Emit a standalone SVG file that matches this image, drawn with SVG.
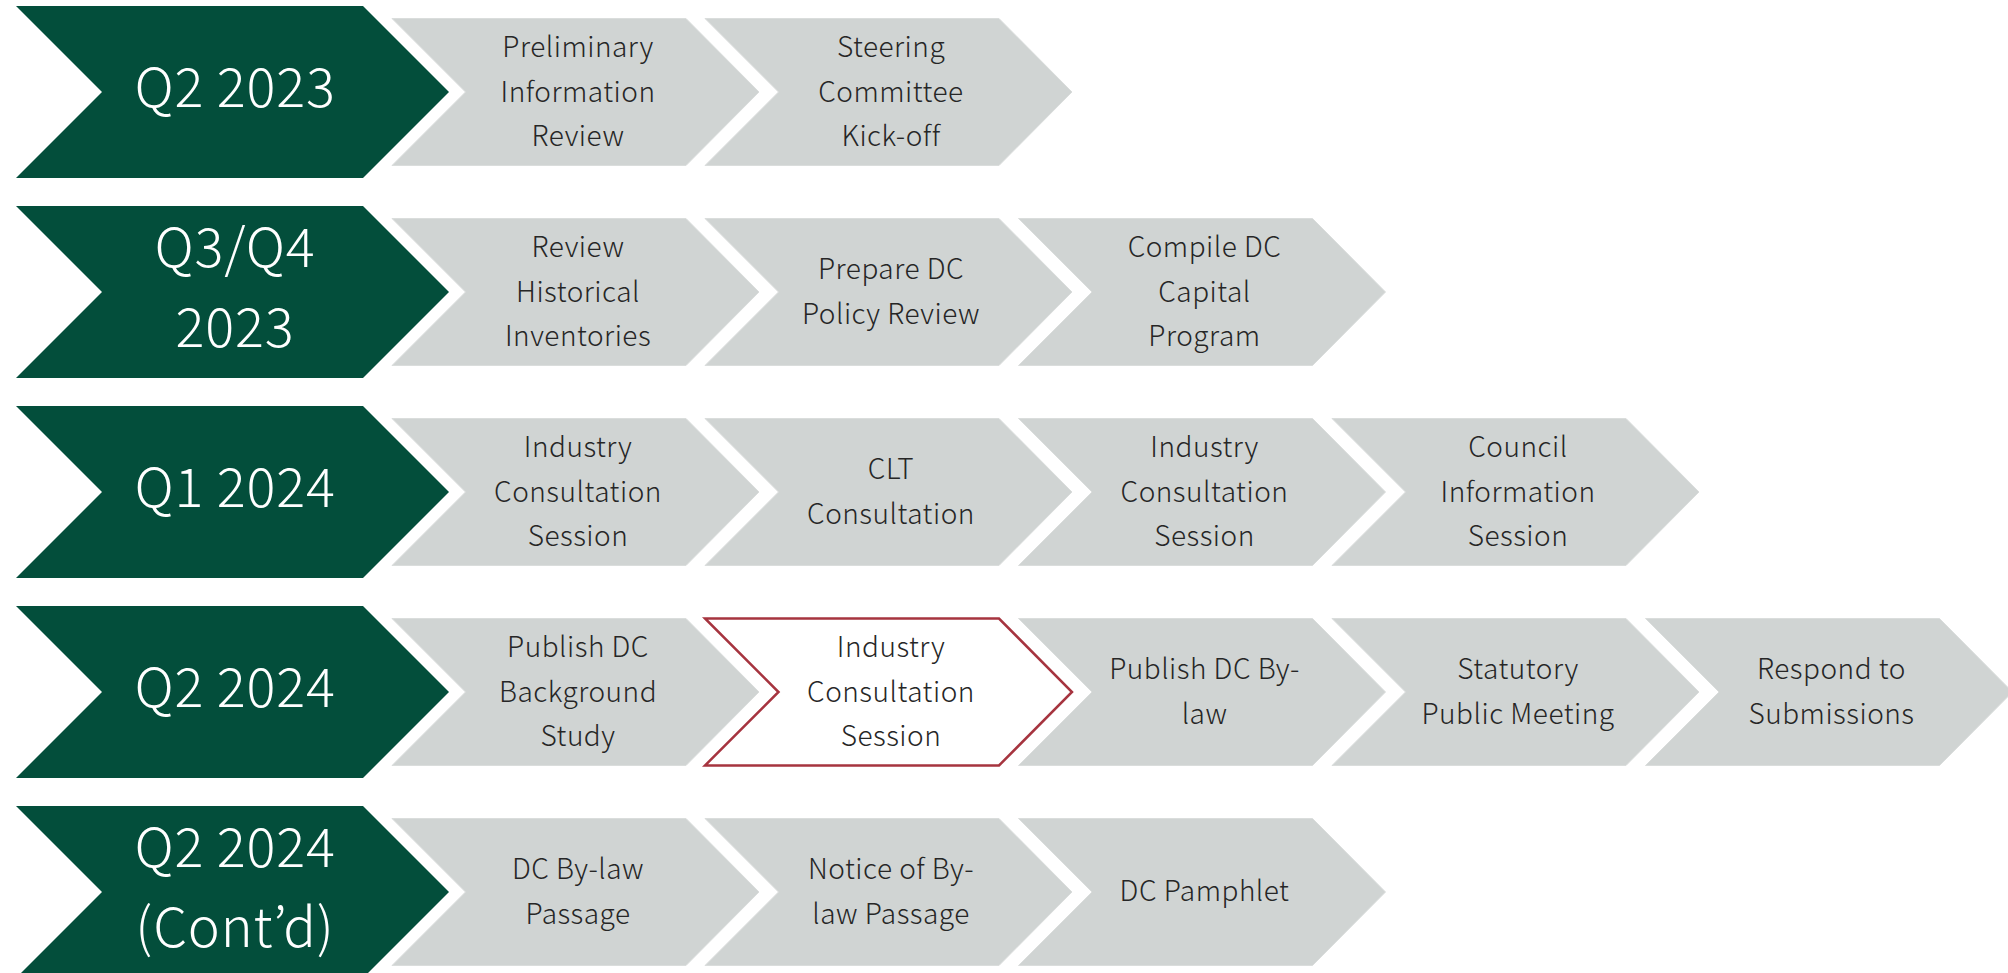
<svg xmlns="http://www.w3.org/2000/svg" xmlns:xlink="http://www.w3.org/1999/xlink" width="2008" height="973" viewBox="0 0 2008 973">
  <style>
    .phase { fill: #034E3B; }
    .step { fill: #D0D4D3; stroke: #DADDDC; stroke-width: 1; }
    .current { fill: #FFFFFF; stroke: #A6343F; stroke-width: 2.5; }
    .ptxt { font-family: "Noto Sans CJK JP", "Liberation Sans", sans-serif; font-weight: 300; font-size: 54px; letter-spacing: 0.8px; fill: #FFFFFF; text-anchor: middle; }
    .stxt { font-family: "Noto Sans CJK JP", "Liberation Sans", sans-serif; font-weight: 300; font-size: 28px; letter-spacing: 0.5px; fill: #262626; text-anchor: middle; }
  </style>
  <defs>
    <!-- large chevron for the period label, 433 x 172 -->
    <path id="chevL" d="M0,0 H347 L433,86 L347,172 H0 L86,86 Z"/>
    <!-- small chevron for a step, 367 x 147 -->
    <path id="chevS" d="M0,0 H294 L367,73.5 L294,147 H0 L73.5,73.5 Z"/>
  </defs>
  <rect width="2008" height="973" fill="#FFFFFF"/>

  <!-- Row 1 : Q2 2023 -->
  <g id="phase-q2-2023">
    <use xlink:href="#chevL" x="16" y="6" class="phase"/>
    <text class="ptxt" x="235" y="107">Q2 2023</text>
  </g>
  <g id="step-preliminary-review">
    <use xlink:href="#chevS" x="392" y="18.5" class="step"/>
    <text class="stxt"><tspan x="578" y="57">Preliminary</tspan><tspan x="578" y="101.5">Information</tspan><tspan x="578" y="146">Review</tspan></text>
  </g>
  <g id="step-steering-kickoff">
    <use xlink:href="#chevS" x="705" y="18.5" class="step"/>
    <text class="stxt"><tspan x="891" y="57">Steering</tspan><tspan x="891" y="101.5">Committee</tspan><tspan x="891" y="146">Kick-off</tspan></text>
  </g>

  <!-- Row 2 : Q3/Q4 2023 -->
  <g id="phase-q3q4-2023">
    <use xlink:href="#chevL" x="16" y="206" class="phase"/>
    <text class="ptxt"><tspan x="235" y="267">Q3/Q4</tspan><tspan x="235" y="347">2023</tspan></text>
  </g>
  <g id="step-historical-inventories">
    <use xlink:href="#chevS" x="392" y="218.5" class="step"/>
    <text class="stxt"><tspan x="578" y="257">Review</tspan><tspan x="578" y="301.5">Historical</tspan><tspan x="578" y="346">Inventories</tspan></text>
  </g>
  <g id="step-policy-review">
    <use xlink:href="#chevS" x="705" y="218.5" class="step"/>
    <text class="stxt"><tspan x="891" y="279">Prepare DC</tspan><tspan x="891" y="323.5">Policy Review</tspan></text>
  </g>
  <g id="step-capital-program">
    <use xlink:href="#chevS" x="1018.5" y="218.5" class="step"/>
    <text class="stxt"><tspan x="1204.5" y="257">Compile DC</tspan><tspan x="1204.5" y="301.5">Capital</tspan><tspan x="1204.5" y="346">Program</tspan></text>
  </g>

  <!-- Row 3 : Q1 2024 -->
  <g id="phase-q1-2024">
    <use xlink:href="#chevL" x="16" y="406" class="phase"/>
    <text class="ptxt" x="235" y="507">Q1 2024</text>
  </g>
  <g id="step-industry-session-1">
    <use xlink:href="#chevS" x="392" y="418.5" class="step"/>
    <text class="stxt"><tspan x="578" y="457">Industry</tspan><tspan x="578" y="501.5">Consultation</tspan><tspan x="578" y="546">Session</tspan></text>
  </g>
  <g id="step-clt-consultation">
    <use xlink:href="#chevS" x="705" y="418.5" class="step"/>
    <text class="stxt"><tspan x="891" y="479">CLT</tspan><tspan x="891" y="523.5">Consultation</tspan></text>
  </g>
  <g id="step-industry-session-2">
    <use xlink:href="#chevS" x="1018.5" y="418.5" class="step"/>
    <text class="stxt"><tspan x="1204.5" y="457">Industry</tspan><tspan x="1204.5" y="501.5">Consultation</tspan><tspan x="1204.5" y="546">Session</tspan></text>
  </g>
  <g id="step-council-session">
    <use xlink:href="#chevS" x="1332" y="418.5" class="step"/>
    <text class="stxt"><tspan x="1518" y="457">Council</tspan><tspan x="1518" y="501.5">Information</tspan><tspan x="1518" y="546">Session</tspan></text>
  </g>

  <!-- Row 4 : Q2 2024 -->
  <g id="phase-q2-2024">
    <use xlink:href="#chevL" x="16" y="606" class="phase"/>
    <text class="ptxt" x="235" y="707">Q2 2024</text>
  </g>
  <g id="step-background-study">
    <use xlink:href="#chevS" x="392" y="618.5" class="step"/>
    <text class="stxt"><tspan x="578" y="657">Publish DC</tspan><tspan x="578" y="701.5">Background</tspan><tspan x="578" y="746">Study</tspan></text>
  </g>
  <g id="step-industry-session-3">
    <use xlink:href="#chevS" x="705" y="618.5" class="current"/>
    <text class="stxt"><tspan x="891" y="657">Industry</tspan><tspan x="891" y="701.5">Consultation</tspan><tspan x="891" y="746">Session</tspan></text>
  </g>
  <g id="step-publish-bylaw">
    <use xlink:href="#chevS" x="1018.5" y="618.5" class="step"/>
    <text class="stxt"><tspan x="1204.5" y="679">Publish DC By-</tspan><tspan x="1204.5" y="723.5">law</tspan></text>
  </g>
  <g id="step-public-meeting">
    <use xlink:href="#chevS" x="1332" y="618.5" class="step"/>
    <text class="stxt"><tspan x="1518" y="679">Statutory</tspan><tspan x="1518" y="723.5">Public Meeting</tspan></text>
  </g>
  <g id="step-respond-submissions">
    <use xlink:href="#chevS" x="1645.5" y="618.5" class="step"/>
    <text class="stxt"><tspan x="1831.5" y="679">Respond to</tspan><tspan x="1831.5" y="723.5">Submissions</tspan></text>
  </g>

  <!-- Row 5 : Q2 2024 (continued) -->
  <g id="phase-q2-2024-contd">
    <use xlink:href="#chevL" x="16" y="806" class="phase"/>
    <text class="ptxt"><tspan x="235" y="867">Q2 2024</tspan><tspan x="235" y="947">(Cont’d)</tspan></text>
  </g>
  <g id="step-bylaw-passage">
    <use xlink:href="#chevS" x="392" y="818.5" class="step"/>
    <text class="stxt"><tspan x="578" y="879">DC By-law</tspan><tspan x="578" y="923.5">Passage</tspan></text>
  </g>
  <g id="step-notice-passage">
    <use xlink:href="#chevS" x="705" y="818.5" class="step"/>
    <text class="stxt"><tspan x="891" y="879">Notice of By-</tspan><tspan x="891" y="923.5">law Passage</tspan></text>
  </g>
  <g id="step-pamphlet">
    <use xlink:href="#chevS" x="1018.5" y="818.5" class="step"/>
    <text class="stxt" x="1204.5" y="901">DC Pamphlet</text>
  </g>
</svg>
